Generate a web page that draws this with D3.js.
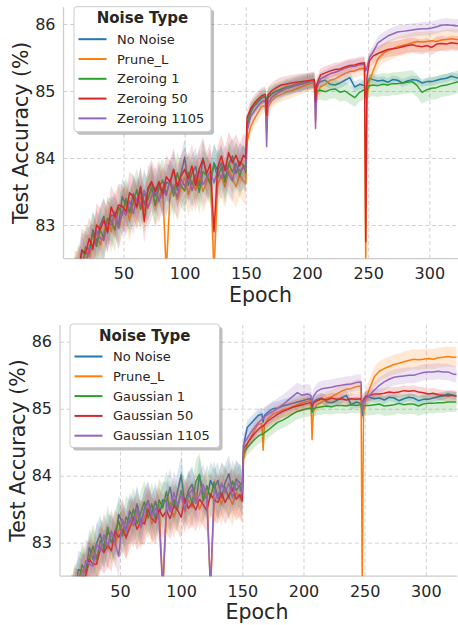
<!DOCTYPE html>
<html>
<head>
<meta charset="utf-8">
<script src="https://cdn.jsdelivr.net/npm/d3@7"></script>
<style>
  body { margin: 0; background: #fff; }
  svg { display: block; font-family: "DejaVu Sans", sans-serif; }
</style>
</head>
<body>
<script>
// Epochs sampled from the curves (shared by every series)
var epochs = [10,13,16,19,22,25,28,31,34,37,40,43,46,49,52,55,58,61,64,67,70,73,76,79,82,85,88,91,94,97,100,103,106,109,112,115,118,121,124,127,130,133,136,139,142,145,148,
  150,151,154,157,160,163,166,167,168,171,175,179,183,187,191,195,199,203,206,207,208,211,215,219,223,227,231,235,239,243,247,248,249,251,254,258,262,266,270,274,278,282,286,290,294,298,302,306,310,314,318,322,325];

// Test accuracy (%) per series
var noNoise = [82.25,82.23,82.60,82.57,82.57,82.93,82.75,83.00,83.13,82.88,83.15,83.12,83.00,83.42,83.30,83.20,83.47,83.35,83.58,83.30,83.51,83.63,83.43,83.62,83.40,83.64,83.61,83.83,83.52,83.76,84.01,83.59,83.78,83.87,83.59,84.00,83.74,83.65,83.93,83.81,83.93,83.67,83.90,84.03,83.77,83.95,83.89,
  83.86,84.45,84.72,84.78,84.84,84.90,84.92,84.80,84.90,84.95,85.00,85.01,85.04,85.06,85.08,85.10,85.12,85.14,85.15,84.95,85.10,85.14,85.16,85.10,85.09,85.12,85.16,85.20,85.06,85.10,85.08,84.90,85.10,85.19,85.17,85.15,85.16,85.13,85.17,85.16,85.12,85.15,85.17,85.16,85.12,85.14,85.14,85.16,85.18,85.19,85.22,85.20,85.19];
var pruneL = [82.05,82.35,82.25,82.60,82.53,82.71,82.88,82.70,82.90,83.10,82.90,83.15,82.95,83.18,83.33,83.06,83.34,83.25,83.43,83.22,83.38,83.53,83.28,83.42,83.57,82.30,83.44,83.60,83.38,83.56,83.71,83.46,83.64,83.52,83.74,83.50,83.64,83.75,82.30,83.61,83.73,83.57,83.82,83.69,83.57,83.75,83.66,
  83.62,84.25,84.47,84.58,84.68,84.77,84.78,84.38,84.75,84.85,84.92,84.95,84.98,85.00,85.03,85.06,85.09,85.11,85.12,84.54,84.95,85.06,85.10,85.16,85.18,85.22,85.26,85.29,85.30,85.33,85.34,82.30,84.90,85.15,85.30,85.48,85.56,85.60,85.63,85.66,85.68,85.70,85.72,85.74,85.73,85.74,85.75,85.74,85.76,85.77,85.78,85.77,85.77];
var zeroing1 = [82.15,82.38,82.35,82.67,82.63,82.88,82.68,82.93,82.80,83.10,83.07,82.92,83.27,83.15,83.40,83.18,83.34,83.53,83.23,83.48,83.38,83.57,83.30,83.55,83.67,83.46,83.66,83.43,83.78,83.59,83.51,83.79,83.61,83.75,83.49,83.80,83.74,83.61,83.90,83.71,83.86,83.64,83.92,83.79,83.92,83.73,83.89,
  83.78,84.50,84.68,84.78,84.84,84.90,84.92,84.85,84.92,84.96,85.00,85.03,85.06,85.08,85.10,85.12,85.13,85.14,85.15,84.92,85.00,85.01,84.99,85.02,85.03,84.98,85.00,84.95,84.90,84.98,85.02,84.92,85.02,85.08,85.09,85.08,85.10,85.09,85.11,85.11,85.12,85.13,85.14,85.08,84.98,85.02,85.04,85.05,85.08,85.09,85.11,85.13,85.14];
var zeroing50 = [82.30,82.28,82.63,82.57,82.80,82.65,83.00,82.93,83.07,82.90,83.27,83.12,83.30,83.28,83.20,83.48,83.42,83.27,83.56,83.05,83.55,83.65,83.50,83.65,83.47,83.72,83.64,83.83,83.58,83.73,83.83,83.69,83.88,83.59,83.84,83.98,83.77,83.91,82.90,83.86,84.03,83.81,84.08,83.93,84.04,83.88,84.04,
  84.00,84.60,84.74,84.82,84.88,84.93,84.95,84.64,84.94,85.00,85.05,85.09,85.10,85.12,85.13,85.14,85.15,85.16,85.17,84.84,85.10,85.24,85.27,85.30,85.32,85.33,85.36,85.38,85.39,85.41,85.42,82.75,85.20,85.45,85.52,85.56,85.59,85.62,85.63,85.64,85.66,85.68,85.69,85.67,85.66,85.68,85.65,85.70,85.71,85.70,85.72,85.71,85.71];
var zeroing1105 = [82.12,82.21,82.50,82.40,82.67,82.63,82.92,82.80,82.77,83.05,83.00,83.20,82.95,83.22,83.15,83.36,83.17,83.40,83.30,83.52,83.25,83.43,83.56,83.35,83.54,83.44,83.68,83.53,83.42,83.69,83.58,83.74,83.51,83.69,83.81,83.60,83.70,83.81,83.63,83.81,83.70,83.89,83.75,83.66,83.90,83.81,83.86,
  83.82,84.40,84.62,84.70,84.78,84.84,84.86,84.17,84.80,84.90,84.96,85.00,85.04,85.06,85.09,85.11,85.13,85.15,85.16,84.44,85.05,85.18,85.22,85.26,85.28,85.31,85.34,85.36,85.37,85.39,85.40,85.30,85.35,85.50,85.58,85.72,85.77,85.82,85.85,85.88,85.89,85.90,85.91,85.92,85.93,85.93,85.94,85.96,85.98,85.99,85.98,85.97,85.98];
var gaussian1 = [82.10,82.35,82.40,82.67,82.57,82.78,82.95,82.76,83.03,82.95,83.23,83.00,83.17,83.32,83.10,83.38,83.30,83.50,83.28,83.45,83.61,83.37,83.58,83.35,83.64,83.52,83.76,83.48,83.65,83.49,83.78,83.59,83.76,83.59,83.91,84.02,83.62,83.85,83.67,83.91,83.66,83.87,83.82,83.66,83.92,83.78,83.86,
  83.70,84.35,84.42,84.48,84.54,84.59,84.62,84.62,84.64,84.68,84.74,84.80,84.83,84.87,84.92,84.96,84.98,85.00,85.01,84.95,85.00,85.02,85.03,85.04,85.03,85.05,85.05,85.04,85.06,85.05,85.06,84.98,85.04,85.05,85.05,85.06,85.07,85.04,85.05,85.06,85.08,85.06,85.07,85.07,85.04,85.07,85.08,85.08,85.09,85.09,85.10,85.10,85.10];
var gaussian50 = [82.08,82.31,82.27,82.50,82.50,82.75,82.68,82.68,82.93,82.85,82.97,82.88,83.17,83.08,83.20,83.08,83.22,83.37,83.20,83.32,83.28,83.50,83.36,83.30,83.50,83.39,83.48,83.36,83.55,83.49,83.38,83.66,83.51,83.59,83.49,83.65,83.57,83.48,83.73,83.64,83.60,83.74,83.60,83.71,83.80,83.65,83.72,
  83.62,84.40,84.48,84.56,84.63,84.69,84.74,84.74,84.76,84.82,84.87,84.92,84.96,84.99,85.02,85.04,85.06,85.08,85.09,85.04,85.08,85.12,85.15,85.13,85.16,85.14,85.15,85.13,85.15,85.14,85.15,85.08,85.14,85.18,85.20,85.22,85.22,85.23,85.25,85.24,85.25,85.27,85.26,85.27,85.25,85.24,85.22,85.23,85.21,85.20,85.19,85.20,85.19];
var gaussian1105 = [82.12,82.18,82.47,82.43,82.73,82.68,82.65,82.98,82.87,83.12,82.95,83.18,83.00,82.80,83.35,83.16,83.37,83.27,83.50,83.25,83.48,83.60,83.38,83.52,83.34,82.30,83.61,83.46,83.75,83.56,83.73,83.49,83.71,83.79,83.59,83.72,83.87,83.65,82.30,83.81,83.66,83.89,83.75,83.89,83.67,83.91,83.80,
  83.74,84.48,84.56,84.65,84.72,84.79,84.84,84.85,84.88,84.92,84.96,85.01,85.06,85.12,85.18,85.24,85.20,85.22,85.20,85.10,85.18,85.26,85.30,85.31,85.32,85.34,85.35,85.36,85.37,85.39,85.40,84.96,85.10,85.15,85.20,85.28,85.35,85.40,85.44,85.47,85.48,85.49,85.50,85.50,85.52,85.54,85.55,85.55,85.56,85.55,85.55,85.52,85.51];

// Confidence band half-widths per training phase (epoch <151, <207, <248, later)
var phaseStarts = [0, 151, 207, 248];
var ciNoNoise = [0.28, 0.10, 0.08, 0.06];
var ciPruneL = [0.32, 0.11, 0.10, 0.15];
var ciZeroing1 = [0.32, 0.12, 0.14, 0.17];
var ciZeroing50 = [0.32, 0.12, 0.10, 0.11];
var ciZeroing1105 = [0.32, 0.12, 0.10, 0.10];
var ciGaussian1 = [0.32, 0.12, 0.12, 0.15];
var ciGaussian50 = [0.32, 0.10, 0.08, 0.08];
var ciGaussian1105 = [0.32, 0.15, 0.12, 0.12];

var xTicks = [50, 100, 150, 200, 250, 300];
var yTicks = [83, 84, 85, 86];

var colors = {
  blue: "#1f77b4", orange: "#ff7f0e", green: "#2ca02c", red: "#d62728", purple: "#9467bd"
};

var svg = d3.select("body")
            .append("svg")
            .attr("width", 458)
            .attr("height", 625);

var panels = [
  {
    id: "top", left: 63.5, top: 7.25, bottom: 258.5, labelX: 28,
    legend: { x: 74, y: 6.7, w: 137, h: 125 },
    series: [
      { name: "No Noise", values: noNoise, ci: ciNoNoise, color: colors.blue },
      { name: "Prune_L", values: pruneL, ci: ciPruneL, color: colors.orange },
      { name: "Zeroing 1", values: zeroing1, ci: ciZeroing1, color: colors.green },
      { name: "Zeroing 50", values: zeroing50, ci: ciZeroing50, color: colors.red },
      { name: "Zeroing 1105", values: zeroing1105, ci: ciZeroing1105, color: colors.purple }
    ],
    drawOrder: [0, 1, 2, 4, 3]
  },
  {
    id: "bottom", left: 60, top: 325, bottom: 576.2, labelX: 25,
    legend: { x: 70, y: 324, w: 149.5, h: 123.5 },
    series: [
      { name: "No Noise", values: noNoise, ci: ciNoNoise, color: colors.blue },
      { name: "Prune_L", values: pruneL, ci: ciPruneL, color: colors.orange },
      { name: "Gaussian 1", values: gaussian1, ci: ciGaussian1, color: colors.green },
      { name: "Gaussian 50", values: gaussian50, ci: ciGaussian50, color: colors.red },
      { name: "Gaussian 1105", values: gaussian1105, ci: ciGaussian1105, color: colors.purple }
    ],
    drawOrder: [0, 1, 2, 3, 4]
  }
];

function phaseOf(e) {
  var p = 0;
  phaseStarts.forEach(function(s, i) { if (e >= s) p = i; });
  return p;
}

panels.forEach(function(p) {
  var width = 397.3;
  var height = p.bottom - p.top;

  var x = d3.scaleLinear().domain([1, 325.7]).range([0, width]);
  var y = d3.scaleLinear().domain([82.5, 86.25]).range([height, 0]);

  var g = svg.append("g").attr("transform", `translate(${p.left}, ${p.top})`);

  svg.append("clipPath").attr("id", "clip-" + p.id)
     .append("rect").attr("x", 0).attr("y", 0).attr("width", width).attr("height", height);

  // grid + ticks
  var xAxis = g.append("g")
               .attr("transform", `translate(0, ${height})`)
               .call(d3.axisBottom(x).tickValues(xTicks).tickFormat(d3.format("d"))
                       .tickSize(-height).tickPadding(9));
  var yAxis = g.append("g")
               .call(d3.axisLeft(y).tickValues(yTicks).tickFormat(d3.format("d"))
                       .tickSize(-width).tickPadding(8));

  [xAxis, yAxis].forEach(function(a) {
    a.select(".domain").remove();
    a.selectAll(".tick line")
     .attr("stroke", "#cccccc")
     .attr("stroke-width", 0.9)
     .attr("stroke-dasharray", "4,2.7");
    a.selectAll(".tick text")
     .attr("fill", "#262626")
     .style("font-size", "16px")
     .style("font-family", "DejaVu Sans");
  });

  // spines
  g.append("line").attr("x1", 0).attr("x2", 0).attr("y1", 0).attr("y2", height)
   .attr("stroke", "#cccccc").attr("stroke-width", 1.25);
  g.append("line").attr("x1", 0).attr("x2", width).attr("y1", height).attr("y2", height)
   .attr("stroke", "#cccccc").attr("stroke-width", 1.25);

  var plot = g.append("g").attr("clip-path", `url(#clip-${p.id})`);

  var line = d3.line()
               .x(function(d) { return x(d.e); })
               .y(function(d) { return y(d.v); });
  var area = d3.area()
               .x(function(d) { return x(d.e); })
               .y0(function(d) { return y(d.v - d.c); })
               .y1(function(d) { return y(d.v + d.c); });

  p.drawOrder.forEach(function(k) {
    var s = p.series[k];
    var pts = epochs.map(function(e, i) {
      return { e: e, v: s.values[i], c: s.ci[phaseOf(e)] };
    });
    plot.append("path").datum(pts)
        .attr("d", area)
        .attr("fill", s.color)
        .attr("fill-opacity", 0.18);
    plot.append("path").datum(pts)
        .attr("d", line)
        .attr("fill", "none")
        .attr("stroke", s.color)
        .attr("stroke-width", 1.5)
        .attr("stroke-linejoin", "round");
  });

  // axis labels
  svg.append("text")
     .attr("transform", `translate(${p.labelX}, ${p.top + height / 2}) rotate(-90)`)
     .attr("text-anchor", "middle")
     .attr("fill", "#262626")
     .style("font-size", "20.5px")
     .text("Test Accuracy (%)");
  svg.append("text")
     .attr("x", p.left + 197)
     .attr("y", p.bottom + 43)
     .attr("text-anchor", "middle")
     .attr("fill", "#262626")
     .style("font-size", "20.5px")
     .text("Epoch");

  // legend
  var L = p.legend;
  var lg = svg.append("g").attr("transform", `translate(${L.x}, ${L.y})`);
  lg.append("rect").attr("x", 3).attr("y", 3).attr("width", L.w).attr("height", L.h)
    .attr("rx", 3).attr("fill", "#808080").attr("fill-opacity", 0.5);
  lg.append("rect").attr("x", 0).attr("y", 0).attr("width", L.w).attr("height", L.h)
    .attr("rx", 3).attr("fill", "#ffffff").attr("stroke", "#cccccc").attr("stroke-width", 1);
  lg.append("text")
    .attr("x", L.w / 2).attr("y", 11.5).attr("dy", "0.35em")
    .attr("text-anchor", "middle")
    .attr("fill", "#262626")
    .style("font-size", "15px").style("font-weight", "bold")
    .text("Noise Type");
  p.series.forEach(function(s, i) {
    var cy = 32.5 + i * 19.8;
    lg.append("line").attr("x1", 4.5).attr("x2", 32.5).attr("y1", cy).attr("y2", cy)
      .attr("stroke", s.color).attr("stroke-width", 2);
    lg.append("text").attr("x", 43).attr("y", cy).attr("dy", "0.35em")
      .attr("fill", "#262626")
      .style("font-size", "13px")
      .text(s.name);
  });
});
</script>
</body>
</html>
